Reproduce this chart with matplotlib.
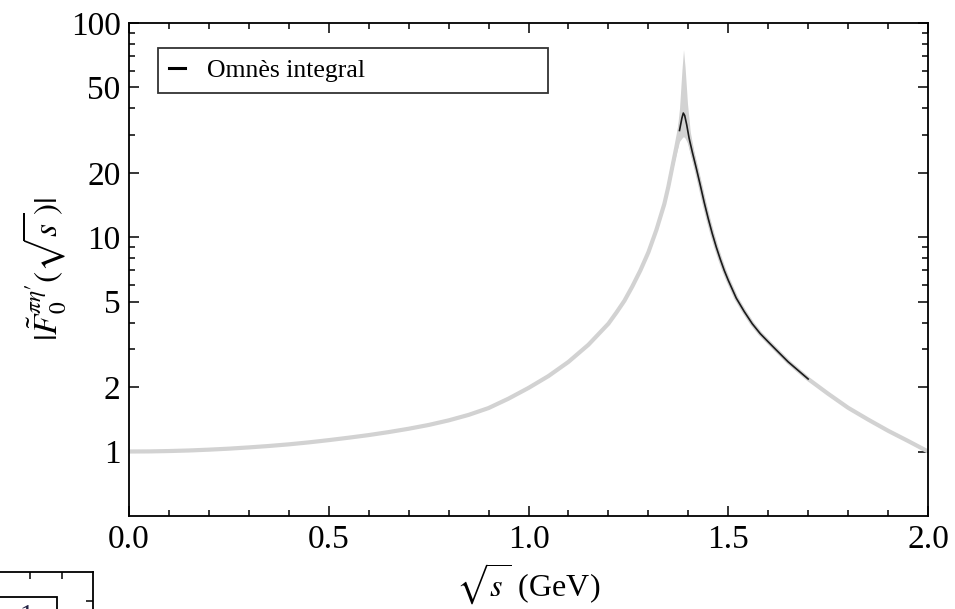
import matplotlib
matplotlib.use("Agg")
import matplotlib.pyplot as plt
from matplotlib.ticker import (FixedLocator, FixedFormatter, NullFormatter,
                               MultipleLocator, FormatStrFormatter)
from matplotlib.patches import Rectangle
import numpy as np

plt.rcParams["font.family"] = ["Liberation Serif", "DejaVu Serif"]
plt.rcParams["mathtext.fontset"] = "stix"

# |F0(sqrt s)| from the Omnès representation (central curve)
sqrt_s = [0.00, 0.05, 0.10, 0.15, 0.20, 0.25, 0.30, 0.35, 0.40, 0.45,
          0.50, 0.55, 0.60, 0.65, 0.70, 0.75, 0.80, 0.85, 0.90, 0.95,
          1.00, 1.05, 1.10, 1.15, 1.20, 1.22, 1.24, 1.26, 1.28, 1.30,
          1.32, 1.34, 1.35, 1.36, 1.37, 1.378, 1.384, 1.3875, 1.391, 1.396,
          1.402, 1.41, 1.42, 1.43, 1.44, 1.45, 1.46, 1.47, 1.48, 1.49,
          1.50, 1.52, 1.54, 1.56, 1.58, 1.60, 1.62, 1.65, 1.70, 1.75,
          1.80, 1.85, 1.90, 1.95, 2.00]
ff_abs = [1.000, 1.001, 1.005, 1.011, 1.020, 1.031, 1.045, 1.061, 1.080, 1.103,
          1.130, 1.160, 1.193, 1.232, 1.277, 1.330, 1.397, 1.482, 1.595, 1.765,
          1.98, 2.25, 2.62, 3.15, 3.95, 4.45, 5.05, 5.9, 7.0, 8.5,
          10.8, 14.3, 17.2, 21.3, 26.3, 31.5, 36.0, 38.0, 37.0, 33.5,
          29.0, 25.0, 21.0, 17.5, 14.5, 12.2, 10.4, 9.0, 7.9, 7.0,
          6.3, 5.2, 4.5, 3.95, 3.55, 3.25, 2.98, 2.62, 2.18, 1.86,
          1.60, 1.41, 1.25, 1.12, 1.00]

# uncertainty band around the resonance peak
band_s = [1.340, 1.350, 1.360, 1.370, 1.378, 1.384, 1.388, 1.392, 1.398,
          1.405, 1.415, 1.430, 1.450, 1.470]
band_lo = [13.8, 16.7, 20.5, 24.5, 28.0, 29.0, 29.5, 29.0, 27.5,
           24.5, 21.0, 16.6, 11.8, 8.7]
band_hi = [14.8, 18.2, 23.0, 29.0, 40.0, 60.0, 75.0, 62.0, 42.0,
           31.0, 24.5, 18.6, 12.8, 9.4]

# range where the Omnès-integral line is drawn on top of the band
omnes_range = (1.375, 1.72)

y_major = [1, 2, 5, 10, 20, 50, 100]
y_minor = [3, 4, 6, 7, 8, 9, 30, 40, 60, 70, 80, 90]

W, H = 955, 609
fig = plt.figure(figsize=(W / 100, H / 100), dpi=100)
ax = fig.add_axes([129 / W, 1 - 516 / H, (928 - 129) / W, (516 - 23) / H])

band_color = "#d2d2d2"
ax.fill_between(band_s, band_lo, band_hi, color=band_color, lw=0, zorder=2)
ax.plot(sqrt_s, ff_abs, color=band_color, lw=3.0, solid_capstyle="butt",
        solid_joinstyle="round", zorder=2)

s_arr = np.asarray(sqrt_s)
f_arr = np.asarray(ff_abs)
sel = (s_arr >= omnes_range[0]) & (s_arr <= omnes_range[1])
line, = ax.plot(s_arr[sel], f_arr[sel], color="#1a1a1a", lw=1.2, zorder=3,
                solid_joinstyle="round", label="Omnès integral")

ax.set_yscale("log")
ax.set_xlim(0.0, 2.0)
ax.set_ylim(0.5, 100)

ax.xaxis.set_major_locator(MultipleLocator(0.5))
ax.xaxis.set_minor_locator(MultipleLocator(0.1))
ax.xaxis.set_major_formatter(FormatStrFormatter("%.1f"))
ax.yaxis.set_major_locator(FixedLocator(y_major))
ax.yaxis.set_major_formatter(FixedFormatter([str(v) for v in y_major]))
ax.yaxis.set_minor_locator(FixedLocator(y_minor))
ax.yaxis.set_minor_formatter(NullFormatter())

ax.tick_params(which="both", direction="in", top=True, right=True,
               width=1.1, labelsize=24, colors="black")
ax.tick_params(which="major", length=7.5, pad=6)
ax.tick_params(which="minor", length=4.5)
for sp in ax.spines.values():
    sp.set_linewidth(1.3)

ax.set_xlabel(r"$\sqrt{s\,}$ (GeV)", fontsize=23, labelpad=5)
ax.set_ylabel(r"$|\tilde{F}_0^{\pi\eta\prime}(\sqrt{s\,})|$", fontsize=24,
              labelpad=2)

leg = ax.legend(handles=[line], loc="upper left",
                bbox_to_anchor=((158 - 129) / 799, (516 - 90) / 493,
                                (548 - 158) / 799, (90 - 48) / 493),
                mode="expand", fontsize=18.5, frameon=True, fancybox=False,
                edgecolor="black", handlelength=0.65, handletextpad=0.85,
                borderpad=0.42, borderaxespad=0.0)
leg.get_frame().set_linewidth(1.3)
for h in leg.legend_handles:
    h.set_linewidth(2.2)
    h.set_color("black")

# neighbouring panel, partly visible at the lower-left corner
ax2 = fig.add_axes([-200 / W, 1 - 800 / H, 293 / W, 228 / H])
ax2.set_xlim(-200, 93)
ax2.set_ylim(0, 228)
ax2.spines["left"].set_visible(False)
ax2.spines["bottom"].set_visible(False)
for sp in ("top", "right"):
    ax2.spines[sp].set_linewidth(1.3)
ax2.set_xticks([30, 62])
ax2.set_yticks([199])
ax2.tick_params(direction="in", top=True, bottom=False, right=True,
                left=False, labeltop=False, labelbottom=False,
                labelleft=False, labelright=False, length=5, width=1.1)
ax2.add_patch(Rectangle((-20, 0), 77, 203, fill=False, lw=1.3,
                        edgecolor="black"))
ax2.text(27, 196, "1", fontsize=20, ha="center", va="top", color="#222244")
ax2.patch.set_alpha(0)

fig.savefig("out.png", dpi=100)
